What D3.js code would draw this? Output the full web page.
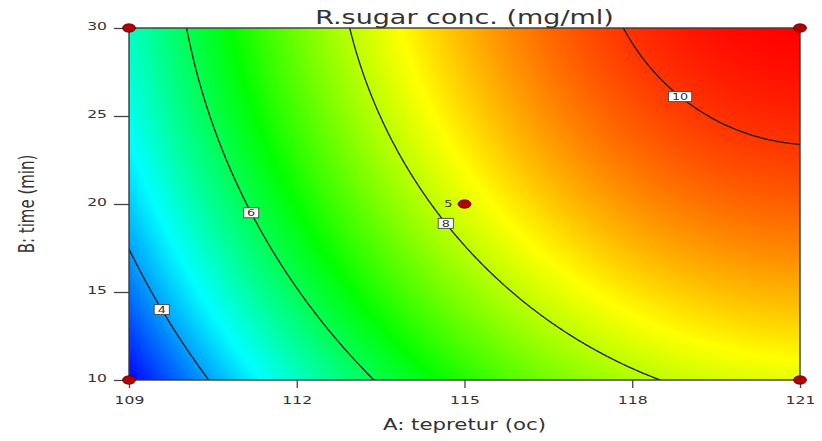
<!DOCTYPE html>
<html>
<head>
<meta charset="utf-8">
<script src="https://cdn.jsdelivr.net/npm/d3@7"></script>
<style>
  html, body { margin: 0; padding: 0; background: #fff; }
  svg text { font-family: "DejaVu Sans", Verdana, sans-serif; fill: #333; }
</style>
</head>
<body>
<svg id="chart" width="822" height="441"></svg>
<script>
// Quadratic response-surface model in coded units (a, b in [-1, 1])
const termNames = ["Intercept", "A", "B", "AB", "A^2", "B^2"];
const coefficients = [8.28, 2.682, 1.106, -0.062, -1.277, -0.34];

// Factor ranges (A: temperature, B: time)
const tempRange = [109, 121];
const timeRange = [10, 30];

// Axis ticks
const xTickValues = [109, 112, 115, 118, 121];
const yTickValues = [10, 15, 20, 25, 30];

// Contour levels and the time at which each level's label sits
const contourLevels = [4, 6, 8, 10];
const contourLabelTimes = [14.0, 19.5, 18.9, 26.1];

// Design points (factorial corners + replicated centre point)
const designTemp = [109, 121, 109, 121, 115];
const designTime = [10, 10, 30, 30, 20];
const designReps = [1, 1, 1, 1, 5];

// Colour ramp from low to high response
const colorStops = ["#0000ff", "#00ffff", "#00ff00", "#ffff00", "#ff0000"];

const W = 822, H = 441;
const margin = { top: 28, right: 22, bottom: 61, left: 129 };
const SX = 1.42; // horizontal text stretch

const svg = d3.select("#chart");
const x = d3.scaleLinear().domain(tempRange).range([margin.left, W - margin.right]);
const y = d3.scaleLinear().domain(timeRange).range([H - margin.bottom, margin.top]);

const aMid = (tempRange[0] + tempRange[1]) / 2, aHalf = (tempRange[1] - tempRange[0]) / 2;
const bMid = (timeRange[0] + timeRange[1]) / 2, bHalf = (timeRange[1] - timeRange[0]) / 2;
function response(A, B) {
  const a = (A - aMid) / aHalf, b = (B - bMid) / bHalf;
  const c = coefficients;
  return c[0] + c[1] * a + c[2] * b + c[3] * a * b + c[4] * a * a + c[5] * b * b;
}

const x0 = x.range()[0], x1 = x.range()[1];
const y0 = y.range()[1], y1 = y.range()[0];
const pw = Math.round(x1 - x0), ph = Math.round(y1 - y0);

// Response extent over the design space drives the colour ramp
let vmin = Infinity, vmax = -Infinity;
for (let j = 0; j <= 50; j++) for (let i = 0; i <= 50; i++) {
  const v = response(tempRange[0] + i / 50 * (tempRange[1] - tempRange[0]),
                     timeRange[0] + j / 50 * (timeRange[1] - timeRange[0]));
  vmin = Math.min(vmin, v); vmax = Math.max(vmax, v);
}
const color = d3.scaleLinear()
  .domain(colorStops.map((_, k) => vmin + k / (colorStops.length - 1) * (vmax - vmin)))
  .range(colorStops)
  .clamp(true);

// Filled surface rendered pixel by pixel
const canvas = document.createElement("canvas");
canvas.width = pw; canvas.height = ph;
const ctx = canvas.getContext("2d");
const img = ctx.createImageData(pw, ph);
for (let py = 0; py < ph; py++) {
  const B = y.invert(y0 + py + 0.5);
  for (let px = 0; px < pw; px++) {
    const A = x.invert(x0 + px + 0.5);
    const c = d3.rgb(color(response(A, B)));
    const k = (py * pw + px) * 4;
    img.data[k] = c.r; img.data[k + 1] = c.g; img.data[k + 2] = c.b; img.data[k + 3] = 255;
  }
}
ctx.putImageData(img, 0, 0);

svg.append("defs").append("clipPath").attr("id", "plotClip")
  .append("rect").attr("x", x0).attr("y", y0).attr("width", x1 - x0).attr("height", y1 - y0);

svg.append("image")
  .attr("x", x0).attr("y", y0).attr("width", x1 - x0).attr("height", y1 - y0)
  .attr("preserveAspectRatio", "none")
  .attr("href", canvas.toDataURL());

// Contour lines on a grid slightly larger than the plot, clipped to it
const nx = 260, ny = 180;
const padA = 0.5, padB = 1;
const gA0 = tempRange[0] - padA, gA1 = tempRange[1] + padA;
const gB0 = timeRange[0] - padB, gB1 = timeRange[1] + padB;
const dA = (gA1 - gA0) / (nx - 1), dB = (gB1 - gB0) / (ny - 1);
const grid = new Array(nx * ny);
for (let j = 0; j < ny; j++) for (let i = 0; i < nx; i++) {
  grid[j * nx + i] = response(gA0 + i * dA, gB0 + j * dB);
}
const contours = d3.contours().size([nx, ny]).thresholds(contourLevels)(grid);
const path = d3.geoPath(d3.geoTransform({
  point(gx, gy) { this.stream.point(x(gA0 + (gx - 0.5) * dA), y(gB0 + (gy - 0.5) * dB)); }
}));
svg.append("g").attr("clip-path", "url(#plotClip)")
  .selectAll("path").data(contours).join("path")
  .attr("d", path)
  .attr("fill", "none")
  .attr("stroke", "#1c1c1c")
  .attr("stroke-width", 1.3);

// Plot frame
svg.append("rect")
  .attr("x", x0).attr("y", y0).attr("width", x1 - x0).attr("height", y1 - y0)
  .attr("fill", "none").attr("stroke", "#3a3a3a").attr("stroke-width", 1.4);

// Contour labels: find the temperature where each level meets its label time
function solveTemp(level, B) {
  let lo = tempRange[0], hi = tempRange[1];
  for (let it = 0; it < 60; it++) {
    const mid = (lo + hi) / 2;
    if (response(mid, B) < level) lo = mid; else hi = mid;
  }
  return (lo + hi) / 2;
}
const labelG = svg.append("g");
contourLevels.forEach((lv, k) => {
  const B = contourLabelTimes[k];
  const A = solveTemp(lv, B);
  const g = labelG.append("g").attr("transform", `translate(${x(A)},${y(B)})`);
  const t = g.append("text")
    .attr("text-anchor", "middle").attr("dy", "0.36em")
    .attr("font-size", 9).attr("fill", "#222")
    .attr("transform", `scale(${SX},1)`)
    .text(lv);
  const tw = t.node().getComputedTextLength() * SX;
  g.insert("rect", "text")
    .attr("x", -(tw + 7) / 2).attr("y", -5).attr("width", tw + 7).attr("height", 10)
    .attr("fill", "#fff").attr("stroke", "#444").attr("stroke-width", 0.9);
});

// Axes
const xAxis = svg.append("g").attr("transform", `translate(0,${y1})`)
  .call(d3.axisBottom(x).tickValues(xTickValues).tickSize(8).tickPadding(8).tickFormat(d3.format("d")));
const yAxis = svg.append("g").attr("transform", `translate(${x0},0)`)
  .call(d3.axisLeft(y).tickValues(yTickValues).tickSize(15).tickPadding(7).tickFormat(d3.format("d")));
[xAxis, yAxis].forEach(g => {
  g.select(".domain").remove();
  g.selectAll(".tick line").attr("stroke", "#444").attr("stroke-width", 1.3);
  g.selectAll(".tick text").attr("font-size", 11).attr("fill", "#333")
    .attr("font-family", "DejaVu Sans, Verdana, sans-serif");
});
xAxis.selectAll(".tick text").attr("transform", `scale(${SX},1)`);
yAxis.selectAll(".tick text").attr("x", -22 / SX).attr("dy", "0.15em").attr("transform", `scale(${SX},1)`);

// Design points
designTemp.forEach((A, k) => {
  svg.append("ellipse")
    .attr("cx", x(designTemp[k])).attr("cy", y(designTime[k]))
    .attr("rx", 6.5).attr("ry", 4.2)
    .attr("fill", "#b40000").attr("stroke", "#5a0000").attr("stroke-width", 0.8);
  if (designReps[k] > 1) {
    svg.append("text")
      .attr("transform", `translate(${x(designTemp[k]) - 12},${y(designTime[k])}) scale(${SX},1)`)
      .attr("text-anchor", "end").attr("dy", "0.35em")
      .attr("font-size", 9).attr("fill", "#333")
      .text(designReps[k]);
  }
});

// Titles
svg.append("text")
  .attr("transform", `translate(${(x0 + x1) / 2},24) scale(${SX},1)`)
  .attr("text-anchor", "middle").attr("font-size", 19).attr("fill", "#333")
  .text("R.sugar conc. (mg/ml)");
svg.append("text")
  .attr("transform", `translate(${(x0 + x1) / 2},430) scale(${SX},1)`)
  .attr("text-anchor", "middle").attr("font-size", 15).attr("fill", "#333")
  .text("A: tepretur (oc)");
svg.append("text")
  .attr("transform", `translate(34,${(y0 + y1) / 2}) scale(${SX},1) rotate(-90)`)
  .attr("text-anchor", "middle").attr("font-size", 15).attr("fill", "#333")
  .text("B: time (min)");
</script>
</body>
</html>
